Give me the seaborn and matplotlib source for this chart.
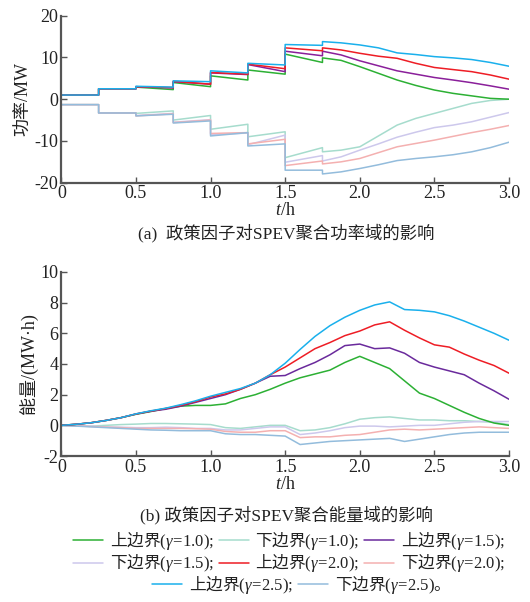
import numpy as np
import pandas as pd
import matplotlib
matplotlib.use("Agg")
import matplotlib.pyplot as plt
import seaborn as sns

sns.set_theme(style="ticks")
plt.rcParams['font.family'] = ['Liberation Serif', 'Noto Sans CJK SC', 'DejaVu Serif']
plt.rcParams['mathtext.fontset'] = 'custom'
plt.rcParams['mathtext.rm'] = 'Liberation Serif'
plt.rcParams['mathtext.it'] = 'Liberation Serif:italic'
plt.rcParams['axes.unicode_minus'] = False

# 功率域 (a): 每个0.25 h时段的起止值, 1.75 h之后按0.125 h取值
t_p = [0, 0.25, 0.25, 0.5, 0.5, 0.75, 0.75, 1.0, 1.0, 1.25, 1.25, 1.5, 1.5, 1.75,
       1.75, 1.875, 2.0, 2.125, 2.25, 2.375, 2.5, 2.625, 2.75, 2.875, 3.0]
p_up_10 = [1.0, 1.0, 2.5, 2.5, 2.9, 2.3, 4.0, 3.0, 5.6, 4.6, 7.0, 6.0, 10.8, 8.8,
           9.9, 9.3, 7.8, 6.2, 4.6, 3.3, 2.2, 1.4, 0.8, 0.2, 0.0]
p_lo_10 = [-1.3, -1.3, -3.3, -3.3, -3.4, -2.8, -5.0, -3.9, -7.2, -6.0, -9.0, -7.8, -14.0, -11.6,
           -12.6, -12.2, -11.4, -8.8, -6.2, -4.6, -3.4, -2.2, -1.0, -0.3, 0.0]
p_up_15 = [1.0, 1.0, 2.5, 2.5, 3.0, 2.7, 4.2, 3.6, 6.3, 5.9, 8.3, 6.6, 11.5, 10.4,
           11.5, 10.6, 9.2, 8.0, 6.8, 6.0, 5.2, 4.6, 3.95, 3.2, 2.4]
p_lo_15 = [-1.3, -1.3, -3.3, -3.3, -3.9, -3.4, -5.5, -4.9, -8.5, -8.1, -10.9, -8.6, -15.1, -13.5,
           -14.8, -13.8, -12.2, -10.7, -9.1, -7.9, -6.8, -6.2, -5.4, -4.3, -3.2]
p_up_20 = [1.0, 1.0, 2.5, 2.5, 3.0, 2.8, 4.3, 3.6, 6.4, 6.0, 8.4, 7.3, 12.3, 11.6,
           12.3, 11.8, 11.0, 10.3, 9.8, 8.6, 7.6, 7.1, 6.6, 5.8, 4.8]
p_lo_20 = [-1.3, -1.3, -3.3, -3.3, -4.0, -3.5, -5.6, -5.0, -8.2, -8.0, -10.7, -9.6, -15.9, -14.8,
           -15.5, -15.0, -14.2, -12.8, -11.4, -10.6, -9.8, -8.9, -8.0, -7.2, -6.3]
p_up_25 = [1.0, 1.0, 2.5, 2.5, 3.1, 2.9, 4.4, 4.2, 6.8, 6.3, 8.6, 8.2, 13.1, 12.9,
           13.8, 13.5, 13.0, 12.3, 11.1, 10.7, 10.2, 9.9, 9.5, 8.8, 7.9]
p_lo_25 = [-1.3, -1.3, -3.3, -3.3, -4.0, -3.6, -5.7, -5.2, -8.8, -8.0, -11.2, -10.7, -17.0, -17.0,
           -17.9, -17.4, -16.6, -15.7, -14.7, -14.2, -13.8, -13.3, -12.6, -11.6, -10.3]

# 能量域 (b): 每0.1 h取值
t_e = np.round(np.arange(0, 3.01, 0.1), 2)
e_up_10 = [0, 0.07, 0.17, 0.32, 0.5, 0.72, 0.9, 1.1, 1.25, 1.3, 1.3, 1.4, 1.75, 2.0, 2.35, 2.75,
           3.1, 3.35, 3.6, 4.1, 4.5, 4.1, 3.7, 2.9, 2.1, 1.75, 1.3, 0.85, 0.45, 0.15, 0.0]
e_lo_10 = [0, -0.03, -0.05, 0.0, 0.05, 0.08, 0.12, 0.12, 0.1, 0.08, 0.05, -0.15, -0.2, -0.1, 0.0, 0.0,
           -0.35, -0.3, -0.15, 0.1, 0.4, 0.5, 0.55, 0.45, 0.35, 0.35, 0.3, 0.3, 0.25, 0.2, 0.05]
e_up_15 = [0, 0.07, 0.17, 0.32, 0.5, 0.74, 0.92, 1.05, 1.25, 1.5, 1.75, 2.0, 2.35, 2.75, 3.2, 3.25,
           3.7, 4.1, 4.6, 5.2, 5.3, 5.0, 5.05, 4.7, 4.1, 3.8, 3.55, 3.3, 2.75, 2.25, 1.7]
e_lo_15 = [0, -0.03, -0.05, -0.1, -0.12, -0.15, -0.15, -0.12, -0.15, -0.2, -0.2, -0.3, -0.3, -0.2, -0.1, -0.1,
           -0.6, -0.5, -0.35, -0.15, -0.05, -0.05, -0.1, -0.05, 0.0, 0.0, 0.1, 0.2, 0.25, 0.25, 0.25]
e_up_20 = [0, 0.07, 0.17, 0.32, 0.5, 0.74, 0.93, 1.1, 1.3, 1.55, 1.85, 2.05, 2.35, 2.75, 3.3, 3.8,
           4.4, 5.0, 5.4, 5.85, 6.15, 6.55, 6.75, 6.2, 5.7, 5.25, 5.1, 4.65, 4.25, 3.9, 3.4]
e_lo_20 = [0, -0.03, -0.08, -0.12, -0.15, -0.2, -0.2, -0.2, -0.2, -0.22, -0.25, -0.4, -0.45, -0.45, -0.35, -0.35,
           -0.8, -0.75, -0.75, -0.65, -0.6, -0.45, -0.3, -0.25, -0.3, -0.25, -0.2, -0.15, -0.1, -0.15, -0.2]
e_up_25 = [0, 0.07, 0.17, 0.32, 0.5, 0.75, 0.95, 1.12, 1.35, 1.6, 1.9, 2.15, 2.4, 2.75, 3.3, 4.05,
           4.95, 5.8, 6.5, 7.05, 7.5, 7.85, 8.05, 7.55, 7.5, 7.4, 7.15, 6.8, 6.4, 6.0, 5.55]
e_lo_25 = [0, -0.05, -0.1, -0.15, -0.2, -0.25, -0.3, -0.32, -0.35, -0.35, -0.35, -0.55, -0.6, -0.6, -0.65, -0.7,
           -1.25, -1.15, -1.05, -1.0, -0.95, -0.9, -0.85, -1.05, -0.9, -0.75, -0.6, -0.5, -0.45, -0.45, -0.45]

gammas = ['1.0', '1.0', '1.5', '1.5', '2.0', '2.0', '2.5', '2.5']
bounds = ['上边界', '下边界'] * 4
ends = [';'] * 7 + ['。']
labels = []
for b, g, e in zip(bounds, gammas, ends):
    tail = '$(\\gamma\\!=\\!' + g + ')' + (';$' if e == ';' else '$' + e)
    labels.append(b + tail)
colors = ['#2cb034', '#a6dccd', '#8a1f9a', '#cdc8ec', '#ee1d25', '#f4b0b0', '#1ab0ec', '#93bcdc']
p_series = [p_up_10, p_lo_10, p_up_15, p_lo_15, p_up_20, p_lo_20, p_up_25, p_lo_25]
e_series = [e_up_10, e_lo_10, e_up_15, e_lo_15, e_up_20, e_lo_20, e_up_25, e_lo_25]
e_colors = colors.copy()
e_colors[2] = '#6a2a9c'

fig = plt.figure(figsize=(5.3, 6.02), dpi=100)
ax1 = fig.add_axes([0.1157, 0.6965, 0.8447, 0.2774])
ax2 = fig.add_axes([0.1157, 0.2425, 0.8447, 0.3057])

draw_order = [1, 3, 5, 7, 0, 2, 4, 6]
handles = {}
for i in draw_order:
    sns.lineplot(x=t_p, y=p_series[i], ax=ax1, color=colors[i], lw=1.1,
                 estimator=None, sort=False)
    sns.lineplot(x=t_e, y=e_series[i], ax=ax2, color=e_colors[i], lw=1.1,
                 estimator=None, sort=False)
    handles[i] = ax2.lines[-1]

spine_c = '#555555'
for ax, ylim, yt, ylab in [(ax1, (-20, 20), [-20, -10, 0, 10, 20], '功率/MW'),
                           (ax2, (-2, 10), [-2, 0, 2, 4, 6, 8, 10], '能量/(MW·h)')]:
    ax.set_xlim(0, 3)
    ax.set_ylim(*ylim)
    ax.set_xticks([0, 0.5, 1.0, 1.5, 2.0, 2.5, 3.0])
    ax.set_xticklabels(['0', '0.5', '1.0', '1.5', '2.0', '2.5', '3.0'])
    ax.set_yticks(yt)
    ax.tick_params(direction='in', length=4, width=1, colors=spine_c,
                   labelcolor='#222222', labelsize=13, pad=2)
    for s in ['top', 'right']:
        ax.spines[s].set_visible(False)
    for s in ['left', 'bottom']:
        ax.spines[s].set_color(spine_c)
        ax.spines[s].set_linewidth(1.6)
    ax.set_xlabel('$t$/h', fontsize=13, color='#222222', labelpad=0)
    ax.set_ylabel(ylab, fontsize=13, color='#222222', labelpad=2)
    ax.grid(False)

fig.text(0.54, 1 - 233 / 602, '(a)  政策因子对SPEV聚合功率域的影响', ha='center', va='center',
         fontsize=12.5, color='#222222')
fig.text(0.54, 1 - 515 / 602, '(b) 政策因子对SPEV聚合能量域的影响', ha='center', va='center',
         fontsize=12.5, color='#222222')

leg_font = {'family': 'Noto Sans CJK SC', 'size': 12}
order6 = [0, 3, 1, 4, 2, 5]
leg1 = fig.legend([handles[i] for i in order6], [labels[i] for i in order6], ncol=3,
                  loc='center', bbox_to_anchor=(0.545, 1 - 552 / 602), frameon=False,
                  prop=leg_font, handlelength=1.8, handletextpad=0.4, columnspacing=0.3,
                  labelspacing=0.05, borderpad=0, labelcolor='#222222')
leg2 = fig.legend([handles[6], handles[7]], [labels[6], labels[7]], ncol=2,
                  loc='center', bbox_to_anchor=(0.56, 1 - 585 / 602), frameon=False,
                  prop=leg_font, handlelength=1.8, handletextpad=0.4, columnspacing=0.3,
                  borderpad=0, labelcolor='#222222')

fig.savefig('out.png', dpi=100)
